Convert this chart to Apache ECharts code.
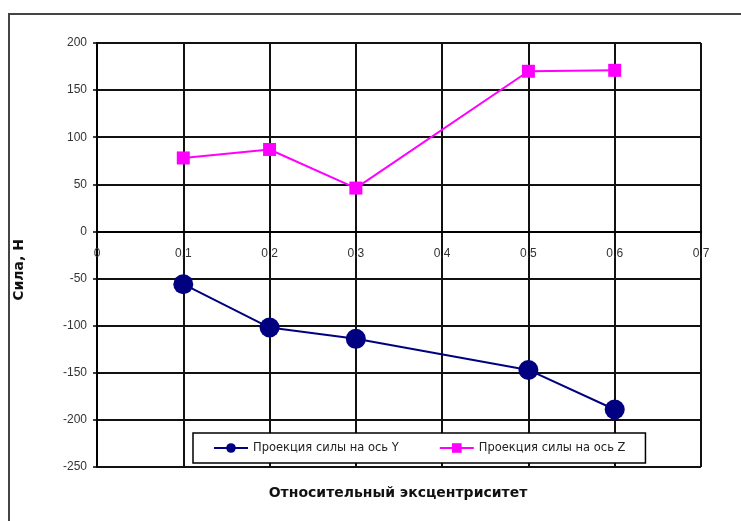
<!DOCTYPE html>
<html>
<head>
<meta charset="utf-8">
<script src="https://cdn.jsdelivr.net/npm/echarts@6/dist/echarts.min.js"></script>
<style>
  html, body { margin: 0; padding: 0; background: #fff; }
  #chart { width: 741px; height: 521px; }
</style>
</head>
<body>
<div id="chart"></div>
<script>
// Relative eccentricity values (x) and force projections (N)
const eccentricity = [0.1, 0.2, 0.3, 0.5, 0.6];
const forceY = [-56, -102, -114, -147, -189];
const forceZ = [78, 87, 46, 170, 171];

const seriesNames = ['Проекция силы на ось Y', 'Проекция силы на ось Z'];
const xTitle = 'Относительный эксцентриситет';
const yTitle = 'Сила, Н';

const pairs = (xs, ys) => xs.map((x, i) => [x, ys[i]]);

const W = 741, H = 521;
const GRID = { left: 97, top: 43, right: 40, bottom: 54 };
const Y_MIN = -250, Y_MAX = 200;
// distance from the bottom of the plot to the zero line, so the x axis sits at y = 0
const plotH = H - GRID.top - GRID.bottom;
const zeroOffset = plotH * (0 - Y_MIN) / (Y_MAX - Y_MIN);

const chart = echarts.init(document.getElementById('chart'), null, { renderer: 'canvas' });

const labelFont = { fontFamily: 'Liberation Sans, Arial, sans-serif', fontSize: 12, color: '#333' };

chart.setOption({
  animation: false,
  backgroundColor: '#fff',
  grid: Object.assign({ containLabel: false }, GRID),
  xAxis: {
    type: 'value',
    min: 0, max: 0.7, interval: 0.1,
    position: 'bottom',
    offset: -zeroOffset,
    axisLine: { onZero: false, lineStyle: { color: '#000', width: 2 } },
    axisTick: { show: false },
    axisLabel: Object.assign({
      margin: 16,
      formatter: v => String(Math.round(v * 10) / 10).replace('.', ',')
    }, labelFont),
    splitLine: { show: true, lineStyle: { color: '#111', width: 2 } }
  },
  yAxis: {
    type: 'value',
    min: Y_MIN, max: Y_MAX, interval: 50,
    axisLine: { show: true, lineStyle: { color: '#000', width: 2 } },
    axisTick: { show: true, length: 4, lineStyle: { color: '#000', width: 1.5 } },
    axisLabel: Object.assign({ margin: 10 }, labelFont),
    splitLine: { show: true, lineStyle: { color: '#111', width: 2 } }
  },
  legend: {
    left: 193, top: 433,
    padding: [9, 20, 9, 20],
    itemGap: 40,
    itemWidth: 34, itemHeight: 12,
    backgroundColor: '#fff',
    borderColor: '#000', borderWidth: 1.5,
    textStyle: { fontFamily: 'DejaVu Sans, sans-serif', fontSize: 11.5, color: '#222' },
    data: seriesNames
  },
  series: [
    {
      name: seriesNames[0],
      type: 'line',
      data: pairs(eccentricity, forceY),
      symbol: 'circle', symbolSize: 20,
      itemStyle: { color: '#000080' },
      lineStyle: { color: '#000080', width: 2 },
      z: 3
    },
    {
      name: seriesNames[1],
      type: 'line',
      data: pairs(eccentricity, forceZ),
      symbol: 'rect', symbolSize: 13,
      itemStyle: { color: '#ff00ff' },
      lineStyle: { color: '#ff00ff', width: 2 },
      z: 3
    }
  ],
  graphic: [
    {
      type: 'rect', silent: true, z: -1,
      shape: { x: 9, y: 14, width: 800, height: 600 },
      style: { fill: 'none', stroke: '#444', lineWidth: 2 }
    },
    {
      type: 'text', x: 398, y: 493,
      style: {
        text: xTitle, font: 'bold 14px DejaVu Sans, sans-serif', fill: '#111',
        align: 'center', verticalAlign: 'middle'
      }
    },
    {
      type: 'text', rotation: Math.PI / 2, x: 19, y: 270,
      style: {
        text: yTitle, font: 'bold 14px DejaVu Sans, sans-serif', fill: '#111',
        align: 'center', verticalAlign: 'middle'
      }
    }
  ]
});
</script>
</body>
</html>
